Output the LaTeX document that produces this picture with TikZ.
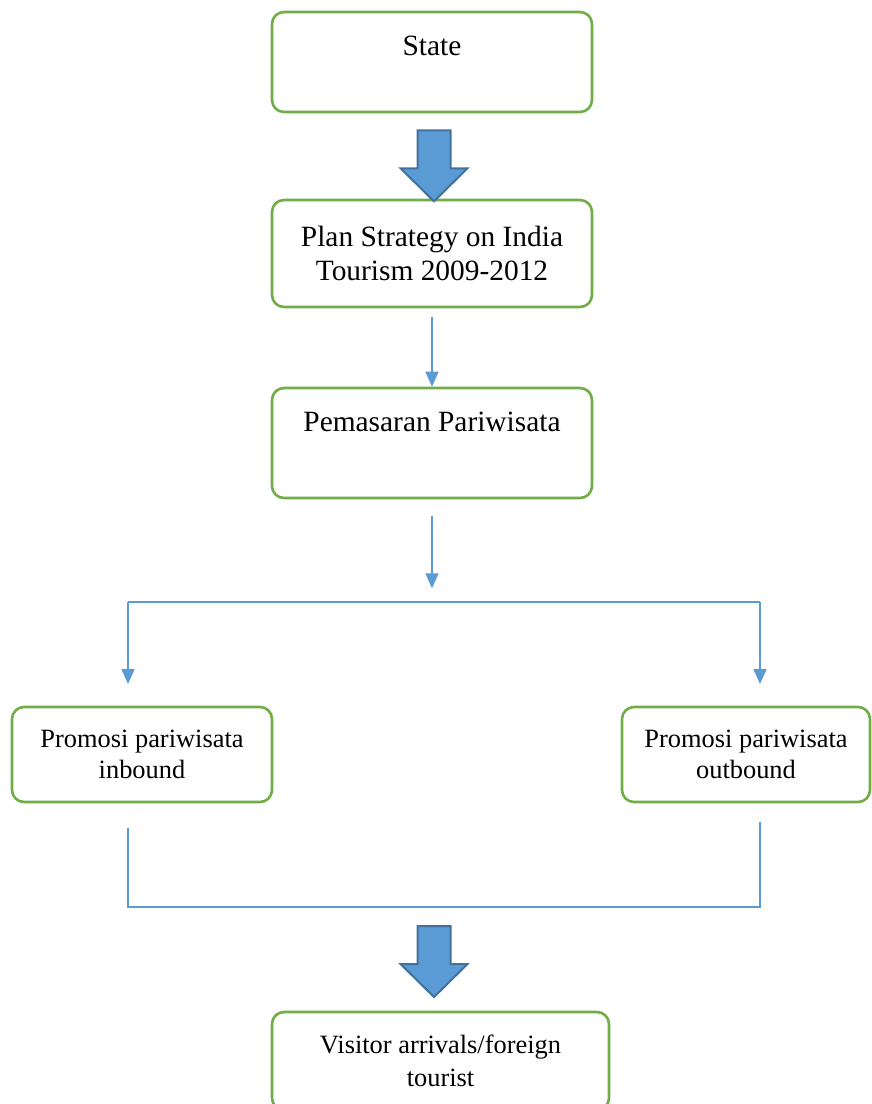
\documentclass[tikz,border=0pt]{standalone}
\usepackage{fontspec}
\setmainfont{Liberation Serif}
\usetikzlibrary{arrows.meta}
\usetikzlibrary{calc}
\definecolor{bx}{RGB}{112, 173, 71}
\definecolor{ln}{RGB}{91, 155, 213}
\definecolor{ar}{RGB}{65, 113, 156}

\begin{document}
\begin{tikzpicture}[x=0.5pt, y=-0.5pt,
        box/.style={draw=bx, line width=1.3pt, rounded corners=6pt, align=center, font=\fontsize{14.7}{17}\selectfont},
        smallbox/.style={box, font=\fontsize{13.2}{15.8}\selectfont},
        topbox/.style={box, text height=10.5pt, inner ysep=11pt},
        thinarrow/.style={draw=ln, line width=0.8pt, -{Triangle[width=6.5pt, length=7.5pt]}},
        thinline/.style={draw=ln, line width=0.7pt},
        blockarrow/.style={fill=ln, draw=ar, line width=1pt}]
        \useasboundingbox (0,0) rectangle (872,1104);
        \node[topbox, minimum width=160pt, text depth=17.5pt] (state) at (432,62) {State};
        \node[box, minimum width=160pt, minimum height=53.5pt] (plan) at (432,253.5) {Plan Strategy on India\\Tourism 2009-2012};
        \node[topbox, minimum width=160pt, text depth=22.5pt] (pemasaran) at (432,443) {Pemasaran Pariwisata};
        \node[smallbox, minimum width=130pt, minimum height=47.5pt] (inbound) at (142,754.5) {Promosi pariwisata\\inbound};
        \node[smallbox, minimum width=124pt, minimum height=47.5pt] (outbound) at (746,754.5) {Promosi pariwisata\\outbound};
        \node[smallbox, minimum width=168.5pt, minimum height=49pt, font=\fontsize{13.2}{16.5}\selectfont] (visitor) at (440.5,1061) {Visitor arrivals/foreign\\tourist};
        % block arrows
        \coordinate (b1) at ($(state.south)+(2,17)$);
        \draw[blockarrow] (b1) ++(-16.5,0) -- ++(33,0) -- ++(0,38) -- ++(17,0) -- ++(-33.5,33) -- ++(-33.5,-33) -- ++(17,0) -- cycle;
        \coordinate (b2) at (434,926);
        \draw[blockarrow] (b2) ++(-16.5,0) -- ++(33,0) -- ++(0,38) -- ++(17,0) -- ++(-33.5,33) -- ++(-33.5,-33) -- ++(17,0) -- cycle;
        % thin arrows
        \draw[thinarrow] ([yshift=-4.5pt]plan.south) -- (pemasaran.north);
        \coordinate (fork) at ($(pemasaran.south)+(0,104)$);
        \draw[thinarrow] ([yshift=-8.5pt]pemasaran.south) -- ([yshift=7.5pt]fork);
        \coordinate (forkl) at (128,602);
        \coordinate (forkr) at (760,602);
        \coordinate (inl) at (128,684);
        \coordinate (inr) at (760,684);
        \draw[thinline] (forkl) -- (forkr);
        \draw[thinarrow] (forkl) -- (inl);
        \draw[thinarrow] (forkr) -- (inr);
        % joining lines
        \coordinate (jl1) at (128,828);
        \coordinate (jl2) at (128,907);
        \coordinate (jr1) at (760,822);
        \coordinate (jr2) at (760,907);
        \draw[thinline] (jl1) -- (jl2) -- (jr2) -- (jr1);
    \end{tikzpicture}
\end{document}
